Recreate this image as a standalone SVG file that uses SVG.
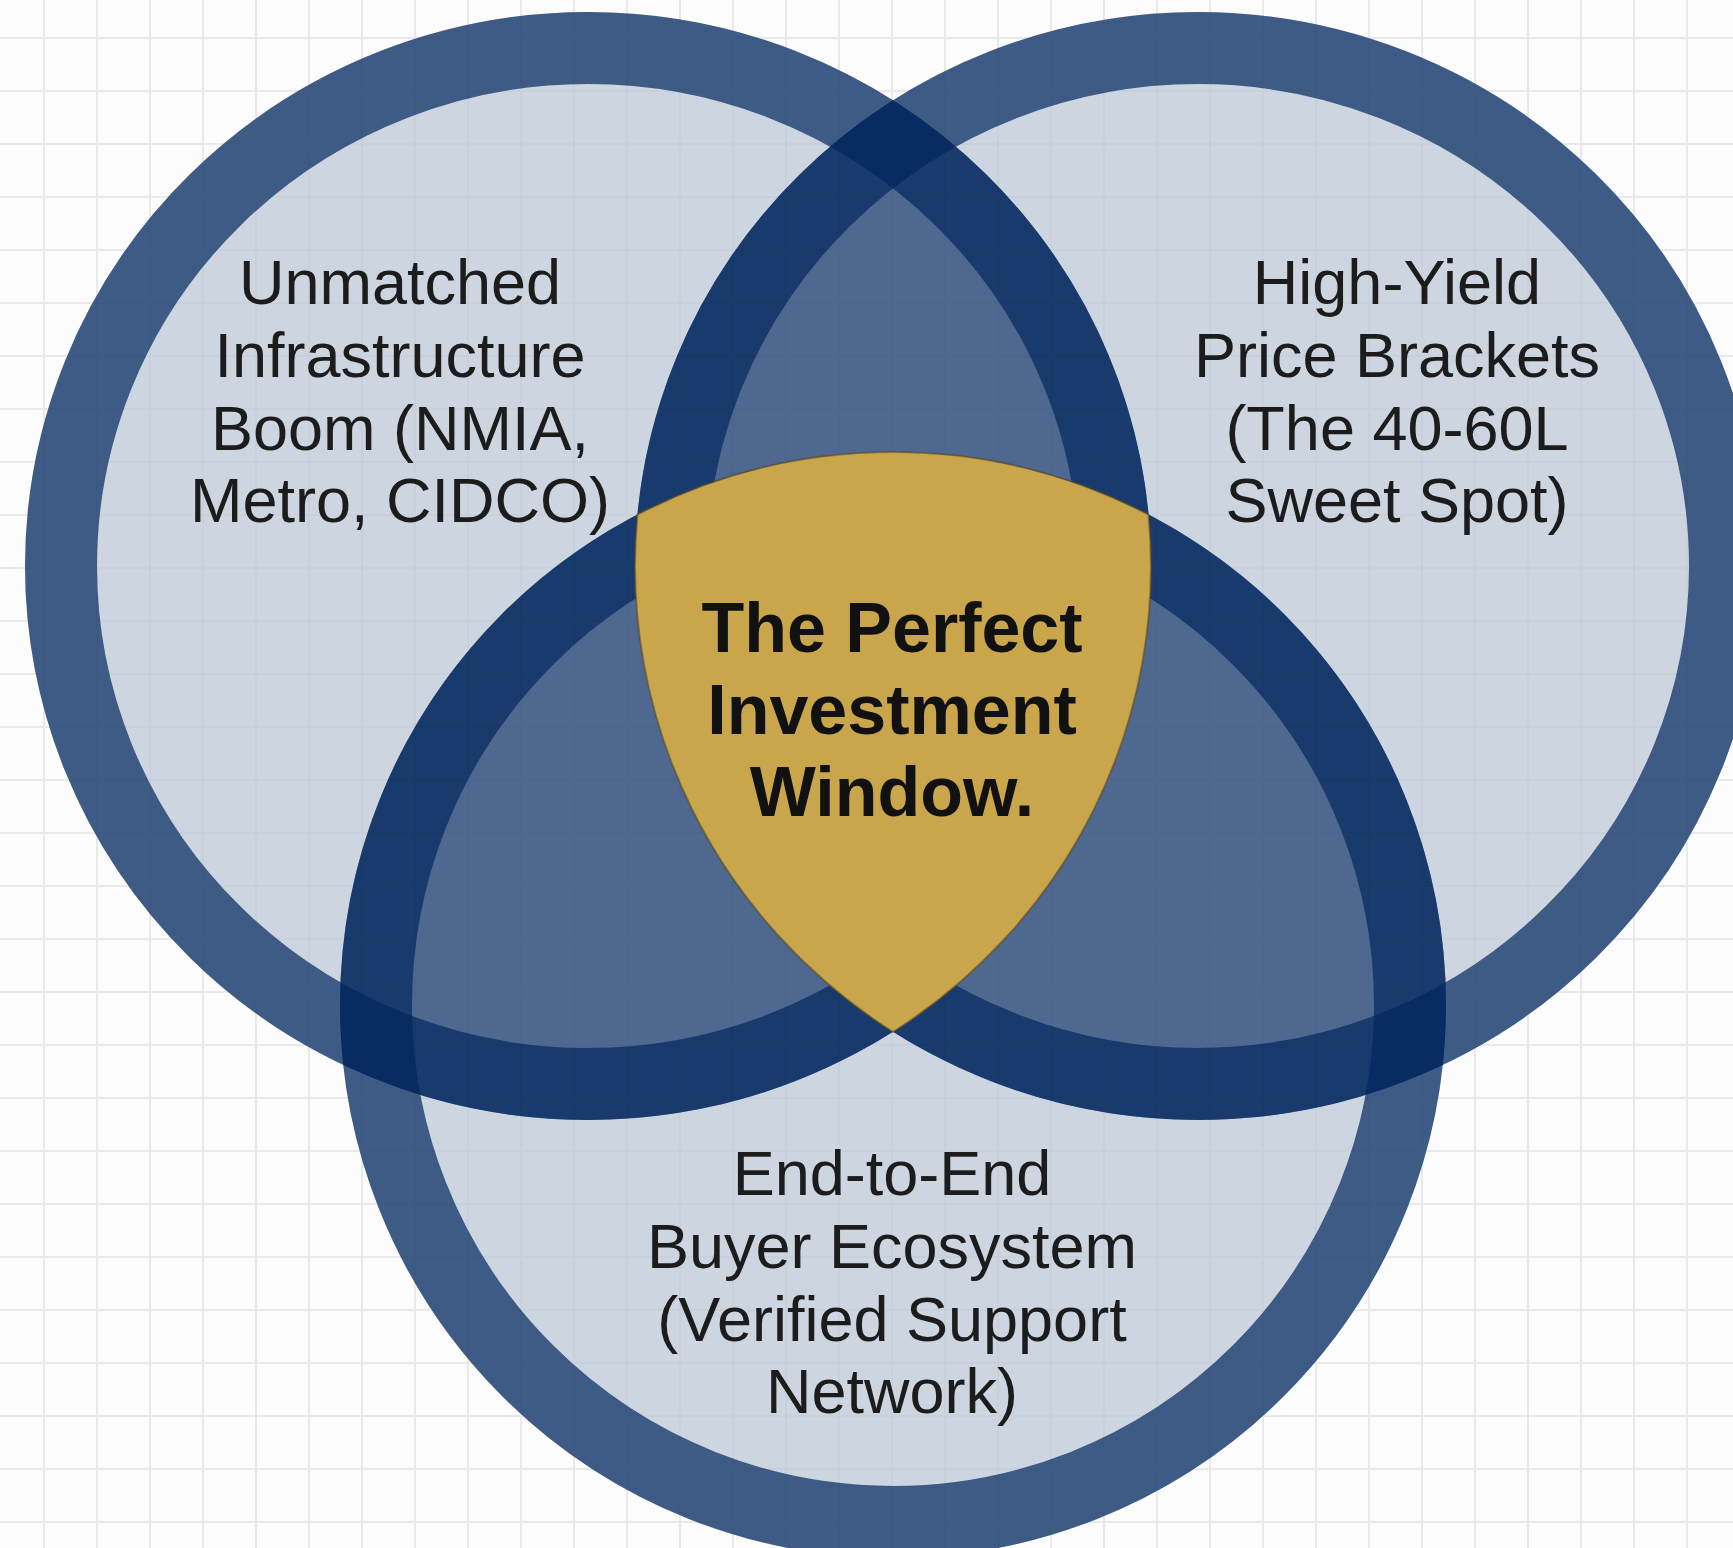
<svg xmlns="http://www.w3.org/2000/svg" width="1733" height="1548" viewBox="0 0 1733 1548">
  <style>
    .disk { fill: #cdd5e0; }
    .mid { fill: #4f6890; }
    .ring { fill: none; stroke: #02275e; stroke-opacity: 0.7; stroke-width: 72; }
    .lbl { font-family: "Liberation Sans", Arial, sans-serif; font-size: 63px; fill: #1c1c1c; text-anchor: middle; }
    .core { font-family: "Liberation Sans", Arial, sans-serif; font-size: 70px; font-weight: bold; fill: #111111; text-anchor: middle; }
  </style>
  <defs>
    <pattern id="grid" patternUnits="userSpaceOnUse" x="43" y="37" width="53" height="53">
      <path d="M0,0 V53 M0,0 H53" fill="none" stroke="#efefef" stroke-width="4"/>
    </pattern>
    <pattern id="gridOver" patternUnits="userSpaceOnUse" x="43" y="37" width="53" height="53">
      <path d="M0,0 V53 M0,0 H53" fill="none" stroke="#000000" stroke-opacity="0.025" stroke-width="4"/>
    </pattern>
    <clipPath id="clipL"><ellipse cx="588" cy="566" rx="563" ry="554"/></clipPath>
    <clipPath id="clipR"><ellipse cx="1198" cy="566" rx="563" ry="554"/></clipPath>
  </defs>

  <rect width="1733" height="1548" fill="#fcfcfc"/>
  <rect width="1733" height="1548" fill="url(#grid)"/>

  <!-- base fills -->
  <g id="fills">
    <ellipse class="disk" cx="588" cy="566" rx="563" ry="554"/>
    <ellipse class="disk" cx="1198" cy="566" rx="563" ry="554"/>
    <circle class="disk" cx="893" cy="1005" r="553"/>
    <g clip-path="url(#clipL)">
      <ellipse class="mid" cx="1198" cy="566" rx="563" ry="554"/>
      <circle class="mid" cx="893" cy="1005" r="553"/>
    </g>
    <g clip-path="url(#clipR)">
      <circle class="mid" cx="893" cy="1005" r="553"/>
    </g>
  </g>

  <g id="node-infrastructure">
    <ellipse class="ring" cx="588" cy="566" rx="527" ry="518"/>
  </g>
  <g id="node-price">
    <ellipse class="ring" cx="1198" cy="566" rx="527" ry="518"/>
  </g>
  <g id="node-ecosystem">
    <circle class="ring" cx="893" cy="1005" r="517"/>
  </g>

  <rect width="1733" height="1548" fill="url(#gridOver)"/>

  <g id="node-core">
    <path d="M637.5,514.6 A553,553 0 0 1 1148.5,514.6 A563,554 0 0 1 893,1032 A563,554 0 0 1 637.5,514.6 Z" fill="#c9a54c" stroke="#5a4a22" stroke-opacity="0.55" stroke-width="2"/>
    <text class="core" x="892" y="652">The Perfect</text>
    <text class="core" x="892" y="734">Investment</text>
    <text class="core" x="892" y="816">Window.</text>
  </g>

  <g id="labels">
    <g id="label-infrastructure">
      <text class="lbl" x="400" y="304">Unmatched</text>
      <text class="lbl" x="400" y="377">Infrastructure</text>
      <text class="lbl" x="400" y="450">Boom (NMIA,</text>
      <text class="lbl" x="400" y="522">Metro, CIDCO)</text>
    </g>
    <g id="label-price">
      <text class="lbl" x="1397" y="304">High-Yield</text>
      <text class="lbl" x="1397" y="377">Price Brackets</text>
      <text class="lbl" x="1397" y="450">(The 40-60L</text>
      <text class="lbl" x="1397" y="522">Sweet Spot)</text>
    </g>
    <g id="label-ecosystem">
      <text class="lbl" x="892" y="1195">End-to-End</text>
      <text class="lbl" x="892" y="1268">Buyer Ecosystem</text>
      <text class="lbl" x="892" y="1341">(Verified Support</text>
      <text class="lbl" x="892" y="1413">Network)</text>
    </g>
  </g>

  <g id="connectors"/>
</svg>
